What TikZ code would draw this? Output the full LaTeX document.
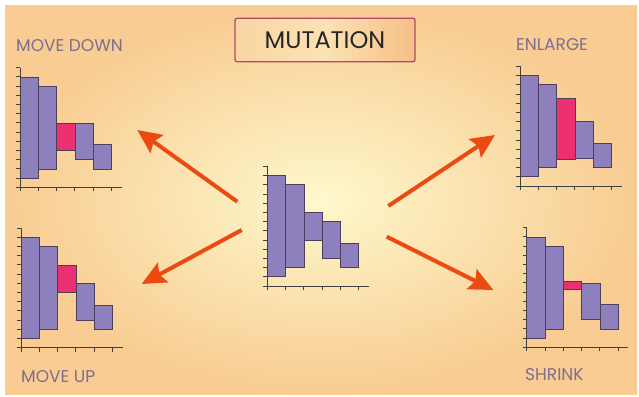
\documentclass[tikz,border=0pt]{standalone}
\usepackage{fontspec}
\setmainfont{Poppins}
\usepackage{tikz}
\usetikzlibrary{arrows.meta,positioning}
\definecolor{bgin}{HTML}{FEF8CC}
\definecolor{bgout}{HTML}{F8CC92}
\definecolor{barfill}{HTML}{8E80BC}
\definecolor{barline}{HTML}{4B3F5C}
\definecolor{mutpink}{HTML}{EC2F6E}
\definecolor{arrowred}{HTML}{EB4A12}
\definecolor{labelgray}{HTML}{7E6E8E}
\definecolor{titleline}{HTML}{B0486C}
\definecolor{titleleft}{HTML}{F9D5A3}
\definecolor{titlemid}{HTML}{FCE2B4}
\definecolor{titleright}{HTML}{F6BF86}

% one histogram: origin, bottom and top of the middle bar, style of the middle bar
\newcommand{\mutchart}[4]{%
  \begin{scope}[shift={#1}, x=18.3pt, y=9.2pt]
    \foreach \l/\b/\t in {0/1/12, 1/2/11, 3/3/7, 4/2/4.65}
      \draw[histbar] (\l,\b) rectangle (\l+1,\t);
    \draw[#4] (2,#2) rectangle (3,#3);
    \draw[chartaxis] (0,0) -- (0,13);
    \draw[chartaxis] (-4pt,0) -- (5.55,0);
    \foreach \k in {1,...,13}
      \draw[chartaxis] (0,\k) -- ++(-4pt,0);
    \foreach \i in {0,...,5}
      \draw[chartaxis] (\i,0) -- ++(0,-4pt);
  \end{scope}}

\begin{document}
\begin{tikzpicture}[x=1pt, y=-1pt,
  histbar/.style={fill=barfill, draw=barline, line width=0.8pt},
  pinkbar/.style={fill=mutpink, draw=barline, line width=0.8pt},
  chartaxis/.style={draw=black!75, line width=0.9pt},
  chartlabel/.style={text=labelgray, inner sep=0pt, anchor=west, font=\fontsize{17}{17}\selectfont},
  titlebox/.style={draw=titleline, line width=1.3pt, rounded corners=2pt,
    left color=titleleft, right color=titleright, middle color=titlemid,
    minimum width=180pt, minimum height=43.4pt, text=black!85,
    font=\fontsize{24}{24}\selectfont},
  mutarrow/.style={draw=arrowred, line width=4pt, -{Stealth[length=24pt, width=22pt, inset=4pt]}}]
  % background
  \useasboundingbox (0,0) rectangle (639,396);
  \fill[white] (0,0) rectangle (639,396);
  \shade[inner color=bgin, outer color=bgout] (5,6) rectangle (637,394);
  % title
  \node[titlebox] (title) at (325,40) {MUTATION};
  % labels
  \node[chartlabel] (mdlabel) at (16,46) {MOVE DOWN};
  \node[chartlabel] (mulabel) at (21,377) {MOVE UP};
  \node[chartlabel] (enlabel) at (516,45) {ENLARGE};
  \node[chartlabel] (shlabel) at (525,375) {SHRINK};
  % charts
  \mutchart{(267.3,286)}{5}{8}{histbar}
  \mutchart{(20,187.3)}{4}{7}{pinkbar}
  \mutchart{(21,347.7)}{6}{9}{pinkbar}
  \mutchart{(520,186)}{2.9}{9.5}{pinkbar}
  \mutchart{(526.7,347.3)}{6.3}{7.2}{pinkbar}
  % arrow ends
  \coordinate (mdtail) at (237.3,201.7);
  \coordinate (mdtip) at (137.3,130);
  \coordinate (mutail) at (241.7,230);
  \coordinate (mutip) at (141.7,284);
  \coordinate (entail) at (388.3,206);
  \coordinate (entip) at (495,135);
  \coordinate (shtail) at (386.7,236.7);
  \coordinate (shtip) at (493.3,290);
  % arrows
  \draw[mutarrow] (mdtail) -- (mdtip);
  \draw[mutarrow] (mutail) -- (mutip);
  \draw[mutarrow] (entail) -- (entip);
  \draw[mutarrow] (shtail) -- (shtip);
\end{tikzpicture}
\end{document}
